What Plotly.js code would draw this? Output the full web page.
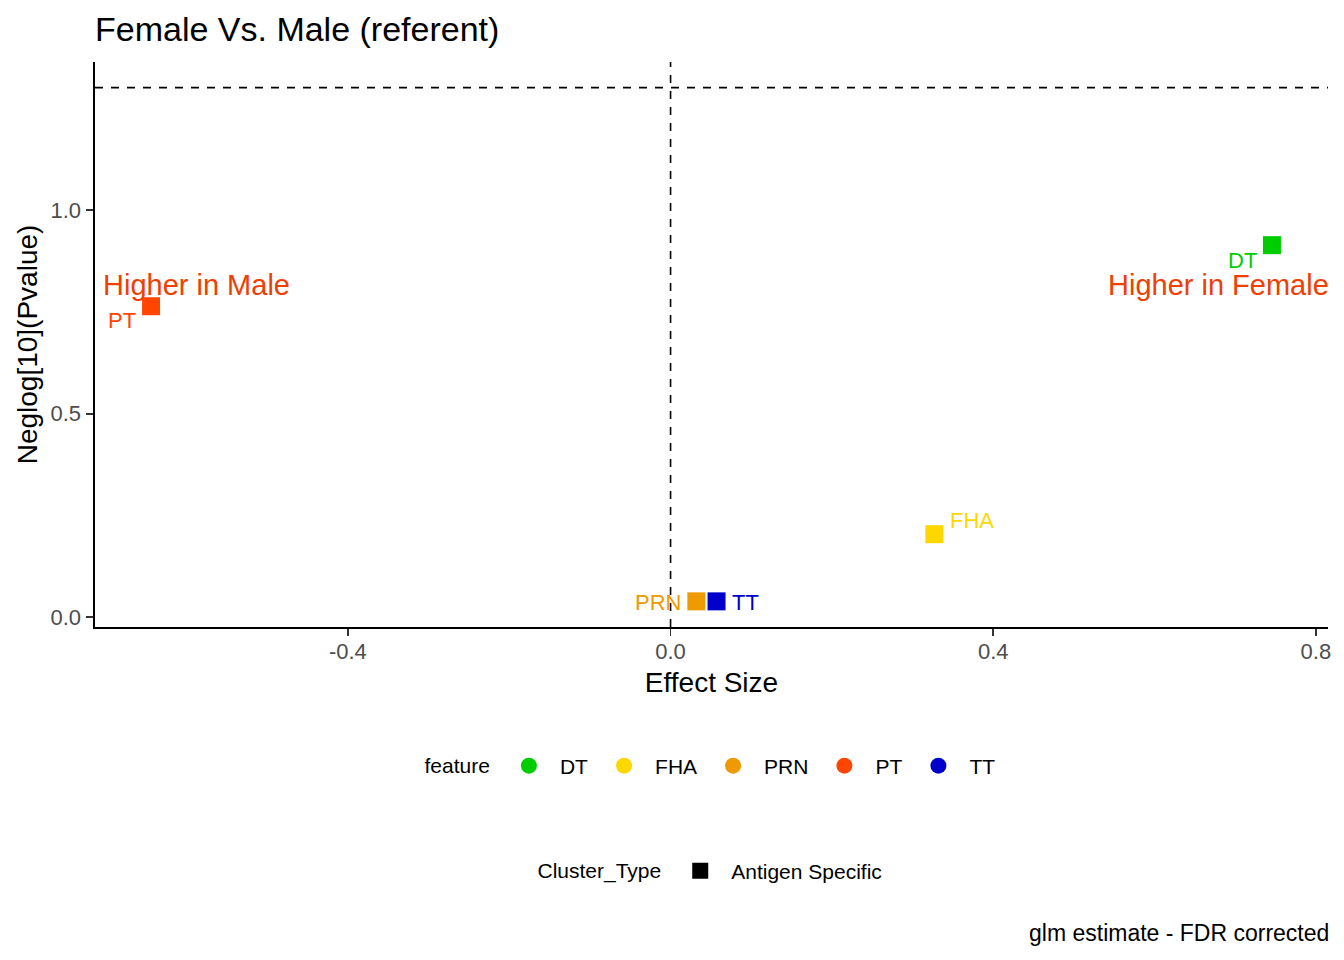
<!DOCTYPE html>
<html>
<head>
<meta charset="utf-8">
<script src="https://cdn.plot.ly/plotly-3.0.1.min.js"></script>
<style>html,body{margin:0;padding:0;background:#fff}#chart{width:1344px;height:960px}</style>
</head>
<body>
<div id="chart"></div>
<script>
// ---- data ----
var features = ["DT", "FHA", "PRN", "PT", "TT"];
var effectSize = [0.7455, 0.327, 0.032, -0.644, 0.057];
var neglogP = [0.914, 0.204, 0.039, 0.764, 0.039];
var featureColors = ["#00CD00", "#FFD700", "#EE9A00", "#FF4500", "#0000CD"];
var clusterTypes = ["Antigen Specific"];
var xTicks = [-0.4, 0.0, 0.4, 0.8];
var xTickLabels = ["-0.4", "0.0", "0.4", "0.8"];
var yTicks = [0.0, 0.5, 1.0];
var yTickLabels = ["0.0", "0.5", "1.0"];
var pThreshold = 0.05;
var xRange = [-0.7135, 0.815];
var yRange = [-0.024, 1.364];

// ---- label placement (styles) ----
var labelPlacement = {
  DT:  {xanchor: "right", xshift: -13, yshift: -15},
  FHA: {xanchor: "left",  xshift: 14,  yshift: 14},
  PRN: {xanchor: "right", xshift: -13, yshift: -1},
  PT:  {xanchor: "right", xshift: -13, yshift: -14},
  TT:  {xanchor: "left",  xshift: 13,  yshift: -1}
};

var FONT = "Liberation Sans, Arial, Helvetica, sans-serif";
var traces = [];
features.forEach(function (f, i) {
  traces.push({
    type: "scatter", mode: "markers", x: [effectSize[i]], y: [neglogP[i]],
    marker: {symbol: "square", size: 18, color: featureColors[i]},
    showlegend: false, hoverinfo: "skip", cliponaxis: false
  });
});
features.forEach(function (f, i) {
  traces.push({
    type: "scatter", mode: "markers", x: [null], y: [null], name: f,
    marker: {symbol: "circle", size: 18, color: featureColors[i]},
    legend: "legend", showlegend: true
  });
});
clusterTypes.forEach(function (c) {
  traces.push({
    type: "scatter", mode: "markers", x: [null], y: [null], name: c,
    marker: {symbol: "square", size: 20, color: "#000000"},
    legend: "legend2", showlegend: true
  });
});

var annotations = features.map(function (f, i) {
  var p = labelPlacement[f];
  return {
    x: effectSize[i], y: neglogP[i], xref: "x", yref: "y", text: f, showarrow: false,
    xanchor: p.xanchor, yanchor: "middle", xshift: p.xshift, yshift: p.yshift,
    font: {family: FONT, size: 22, color: featureColors[i]}
  };
});
annotations.push({
  x: xRange[0], y: 0.815, xref: "x", yref: "y", text: "Higher in Male", showarrow: false,
  xanchor: "left", yanchor: "middle", xshift: 6,
  font: {family: FONT, size: 29, color: "#EE4000"}
});
annotations.push({
  x: xRange[1], y: 0.815, xref: "x", yref: "y", text: "Higher in Female", showarrow: false,
  xanchor: "right", yanchor: "middle", xshift: 3,
  font: {family: FONT, size: 29, color: "#EE4000"}
});
annotations.push({
  x: 1, y: -0.5416, xref: "paper", yref: "paper", text: "glm estimate - FDR corrected",
  showarrow: false, xanchor: "right", yanchor: "middle", xshift: 3,
  font: {family: FONT, size: 23, color: "#000000"}
});

var shapes = [
  {type: "line", xref: "x", yref: "paper", x0: 0, x1: 0, y0: 0, y1: 1,
   line: {color: "#000", width: 1.6, dash: "8px,8px"}},
  {type: "line", xref: "paper", yref: "y", x0: 0, x1: 1,
   y0: -Math.log10(pThreshold), y1: -Math.log10(pThreshold),
   line: {color: "#000", width: 1.6, dash: "8px,8px"}}
];

var layout = {
  width: 1344, height: 960,
  margin: {l: 95, r: 16, t: 62, b: 333},
  paper_bgcolor: "#fff", plot_bgcolor: "#fff",
  font: {family: FONT, color: "#000"},
  title: {text: "Female Vs. Male (referent)", x: 95 / 1344, xanchor: "left", xref: "container",
          y: 1 - 29 / 960, yanchor: "middle", yref: "container",
          font: {family: FONT, size: 34, color: "#000"}},
  xaxis: {range: xRange, tickvals: xTicks, ticktext: xTickLabels, showgrid: false, zeroline: false,
          showline: true, linecolor: "#000", linewidth: 1.6, ticks: "outside", ticklen: 7,
          tickwidth: 1.6, tickcolor: "#333", tickfont: {size: 22, color: "#4D4D4D", family: FONT},
          ticklabelstandoff: -3,
          title: {text: "Effect Size", font: {size: 28, color: "#000", family: FONT}, standoff: 9}},
  yaxis: {range: yRange, tickvals: yTicks, ticktext: yTickLabels, showgrid: false, zeroline: false,
          showline: true, linecolor: "#000", linewidth: 1.6, ticks: "outside", ticklen: 7,
          tickwidth: 1.6, tickcolor: "#333", tickfont: {size: 22, color: "#4D4D4D", family: FONT},
          ticklabelstandoff: 1,
          title: {text: "Neglog[10](Pvalue)", font: {size: 28, color: "#000", family: FONT}, standoff: 4}},
  legend: {orientation: "h", x: 0.5, xanchor: "center", y: -0.246, yanchor: "middle",
           itemwidth: 52, font: {size: 21, family: FONT, color: "#000"},
           title: {text: "feature", side: "left", font: {size: 21, family: FONT, color: "#000"}},
           bgcolor: "rgba(0,0,0,0)"},
  legend2: {orientation: "h", x: 0.5, xanchor: "center", y: -0.432, yanchor: "middle",
            itemwidth: 52, font: {size: 21, family: FONT, color: "#000"},
            title: {text: "Cluster_Type", side: "left", font: {size: 21, family: FONT, color: "#000"}},
            bgcolor: "rgba(0,0,0,0)"},
  shapes: shapes,
  annotations: annotations,
  hovermode: false
};

Plotly.newPlot("chart", traces, layout, {displayModeBar: false, staticPlot: true});
</script>
</body>
</html>
